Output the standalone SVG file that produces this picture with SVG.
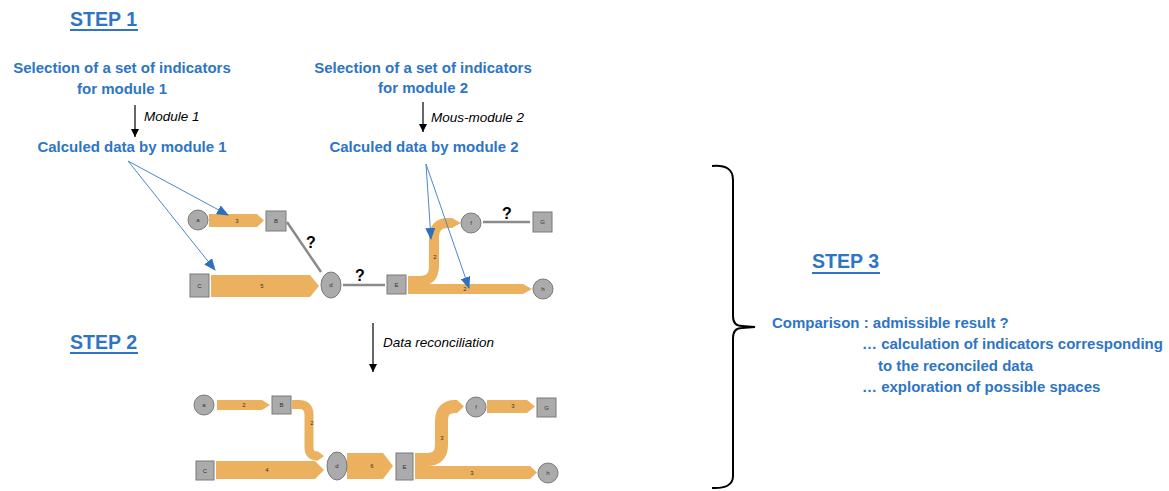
<svg xmlns="http://www.w3.org/2000/svg" width="1169" height="491" viewBox="0 0 1169 491">
<defs>
<style>
.t{font-family:"Liberation Sans",Arial,sans-serif;font-weight:bold;font-size:15px;fill:#2e75c5}
.st{font-family:"Liberation Sans",Arial,sans-serif;font-weight:bold;font-size:21px;fill:#2e75c5}
.it{font-family:"Liberation Sans",Arial,sans-serif;font-style:italic;font-size:13.5px;fill:#000}
.q{font-family:"Liberation Sans",Arial,sans-serif;font-weight:bold;font-size:16px;fill:#000;text-anchor:middle}
.nl{font-family:"Liberation Sans",Arial,sans-serif;font-size:6px;fill:#333;text-anchor:middle;dominant-baseline:central}
.fl{font-family:"Liberation Sans",Arial,sans-serif;font-size:6px;fill:#333;text-anchor:middle;dominant-baseline:central}
.nd{fill:#ababab;stroke:#7a7a7a;stroke-width:1}
.or{fill:#ecb15f}
.ors{fill:none;stroke:#ecb15f}
.gl{stroke:#8a8a8a;stroke-width:2.5;fill:none}
.bl{stroke:#4a88cc;stroke-width:1;fill:none;marker-end:url(#ba)}
.kl{stroke:#000;stroke-width:1.2;fill:none;marker-end:url(#ka)}
.ul{fill:#2e75c5}
</style>
<marker id="ba" markerWidth="12" markerHeight="10" refX="11" refY="5" orient="auto" markerUnits="userSpaceOnUse">
<path d="M0,0 L12,5 L0,10 Z" fill="#2f6fbf"/>
</marker>
<marker id="ka" markerWidth="8" markerHeight="8" refX="8" refY="4" orient="auto" markerUnits="userSpaceOnUse">
<path d="M0,0 L8,4 L0,8 Z" fill="#000"/>
</marker>
</defs>
<rect width="1169" height="491" fill="#fff"/>

<!-- Titles and texts -->
<g id="step1-title">
<text class="st" x="70" y="26" textLength="67" lengthAdjust="spacingAndGlyphs">STEP 1</text>
<rect class="ul" x="70" y="29" width="68" height="2"/>
</g>
<g id="step2-title">
<text class="st" x="70" y="349" textLength="67" lengthAdjust="spacingAndGlyphs">STEP 2</text>
<rect class="ul" x="70" y="352" width="68" height="2"/>
</g>
<g id="step3-title">
<text class="st" x="812" y="268" textLength="67" lengthAdjust="spacingAndGlyphs">STEP 3</text>
<rect class="ul" x="812" y="272" width="68" height="2"/>
</g>

<g id="sel1">
<text class="t" x="122" y="73" text-anchor="middle">Selection of a set of indicators</text>
<text class="t" x="122" y="94" text-anchor="middle">for module 1</text>
</g>
<g id="calc1"><text class="t" x="132" y="152" text-anchor="middle">Calculed data by module 1</text></g>
<g id="sel2">
<text class="t" x="423" y="73" text-anchor="middle">Selection of a set of indicators</text>
<text class="t" x="423" y="93" text-anchor="middle">for module 2</text>
</g>
<g id="calc2"><text class="t" x="424" y="152" text-anchor="middle">Calculed data by module 2</text></g>

<g id="step3-text">
<text class="t" x="772" y="328">Comparison : admissible result ?</text>
<text class="t" x="862" y="349">… calculation of indicators corresponding</text>
<text class="t" x="878" y="371">to the reconciled data</text>
<text class="t" x="862" y="392">… exploration of possible spaces</text>
</g>

<!-- Connectors -->
<g id="connectors">
<line class="kl" x1="135" y1="105" x2="135" y2="137"/>
<text class="it" x="144" y="121">Module 1</text>
<line class="kl" x1="423" y1="102" x2="423" y2="132"/>
<text class="it" x="431" y="122">Mous-module 2</text>
<line class="kl" x1="373" y1="323" x2="373" y2="372"/>
<text class="it" x="383" y="347">Data reconciliation</text>

<!-- step 1 flows -->
<polygon class="or" points="209,214 257,214 264,220.5 257,227 209,227"/>
<text class="fl" x="237" y="220.5">3</text>
<polygon class="or" points="211,275 310,275 319,286 310,297 211,297"/>
<text class="fl" x="262" y="286">5</text>
<path class="ors" stroke-width="10" d="M408,281 L420,281 Q434,281 434,266 L434,238 Q434,223 448,223 L449,223"/>
<polygon class="or" points="448,218 452,218 461,223 452,228 448,228"/>
<text class="fl" x="435" y="257">2</text>
<polygon class="or" points="408,284 523,284 532,289 523,294 408,294"/>
<text class="fl" x="465" y="289">2</text>

<line class="gl" x1="287" y1="222" x2="321" y2="272"/>
<text class="q" x="311" y="248">?</text>
<line class="gl" x1="343" y1="285" x2="385" y2="285"/>
<text class="q" x="360" y="281">?</text>
<line class="gl" x1="483" y1="222" x2="530" y2="222"/>
<text class="q" x="507" y="219">?</text>

<line class="bl" x1="128" y1="161" x2="228" y2="215"/>
<line class="bl" x1="128" y1="161" x2="215" y2="270"/>
<line class="bl" x1="426" y1="164" x2="431" y2="239"/>
<line class="bl" x1="426" y1="164" x2="469" y2="288"/>

<!-- step 2 flows -->
<polygon class="or" points="217,400 262,400 270,405 262,410 217,410"/>
<text class="fl" x="244" y="405">2</text>
<path class="ors" stroke-width="9" d="M292,404.5 L299,404.5 Q309,404.5 309,415 L309,447 Q309,456 317,456"/>
<polygon class="or" points="316,451.5 318,451.5 324,456 318,460.5 316,460.5"/>
<text class="fl" x="312" y="423">2</text>
<polygon class="or" points="216,461 315,461 324,470 315,479 216,479"/>
<text class="fl" x="267" y="470">4</text>
<polygon class="or" points="347,453 383,453 393,466 383,479 347,479"/>
<text class="fl" x="372" y="466">6</text>
<path class="ors" stroke-width="13" d="M415,459.5 L427,459.5 Q441.5,459.5 441.5,445 L441.5,421 Q441.5,406.5 455,406.5 L457,406.5"/>
<polygon class="or" points="456,400 457,400 464,406.5 457,413 456,413"/>
<text class="fl" x="442" y="438">3</text>
<polygon class="or" points="415,466 530,466 537,472.5 530,479 415,479"/>
<text class="fl" x="472" y="473">3</text>
<polygon class="or" points="487,400 527,400 535,406.5 527,413 487,413"/>
<text class="fl" x="513" y="406">3</text>

<!-- brace -->
<path d="M712,166 Q733,164 733,180 L733,316 Q733,326 742,326 L755,327 L742,328 Q733,328 733,338 L733,476 Q733,489 712,488" fill="none" stroke="#000" stroke-width="2"/>
</g>

<!-- Step 1 nodes -->
<g id="s1-a"><circle class="nd" cx="198" cy="220" r="10"/><text class="nl" x="198" y="220">a</text></g>
<g id="s1-B"><rect class="nd" x="266" y="211" width="20" height="20"/><text class="nl" x="276" y="221">B</text></g>
<g id="s1-C"><rect class="nd" x="190" y="274" width="19" height="23"/><text class="nl" x="199.5" y="285.5">C</text></g>
<g id="s1-d"><ellipse class="nd" cx="331" cy="285" rx="10" ry="13"/><text class="nl" x="331" y="285">d</text></g>
<g id="s1-E"><rect class="nd" x="387" y="275" width="19" height="19"/><text class="nl" x="396.5" y="284.5">E</text></g>
<g id="s1-f"><circle class="nd" cx="471" cy="223" r="10"/><text class="nl" x="471" y="223">f</text></g>
<g id="s1-G"><rect class="nd" x="533" y="212" width="19" height="20"/><text class="nl" x="542.5" y="222">G</text></g>
<g id="s1-h"><circle class="nd" cx="543" cy="289" r="10"/><text class="nl" x="543" y="289">h</text></g>

<!-- Step 2 nodes -->
<g id="s2-a"><circle class="nd" cx="204" cy="405" r="10"/><text class="nl" x="204" y="405">a</text></g>
<g id="s2-B"><rect class="nd" x="272" y="396" width="19" height="18"/><text class="nl" x="281.5" y="405">B</text></g>
<g id="s2-C"><rect class="nd" x="196" y="461" width="18" height="19"/><text class="nl" x="205" y="470.5">C</text></g>
<g id="s2-d"><ellipse class="nd" cx="337" cy="466" rx="10" ry="14"/><text class="nl" x="337" y="466">d</text></g>
<g id="s2-E"><rect class="nd" x="396" y="453" width="17" height="27"/><text class="nl" x="404.5" y="466.5">E</text></g>
<g id="s2-f"><circle class="nd" cx="476" cy="407" r="10"/><text class="nl" x="476" y="407">f</text></g>
<g id="s2-G"><rect class="nd" x="537" y="398" width="19" height="19"/><text class="nl" x="546.5" y="407.5">G</text></g>
<g id="s2-h"><circle class="nd" cx="548" cy="473" r="10"/><text class="nl" x="548" y="473">h</text></g>
</svg>
